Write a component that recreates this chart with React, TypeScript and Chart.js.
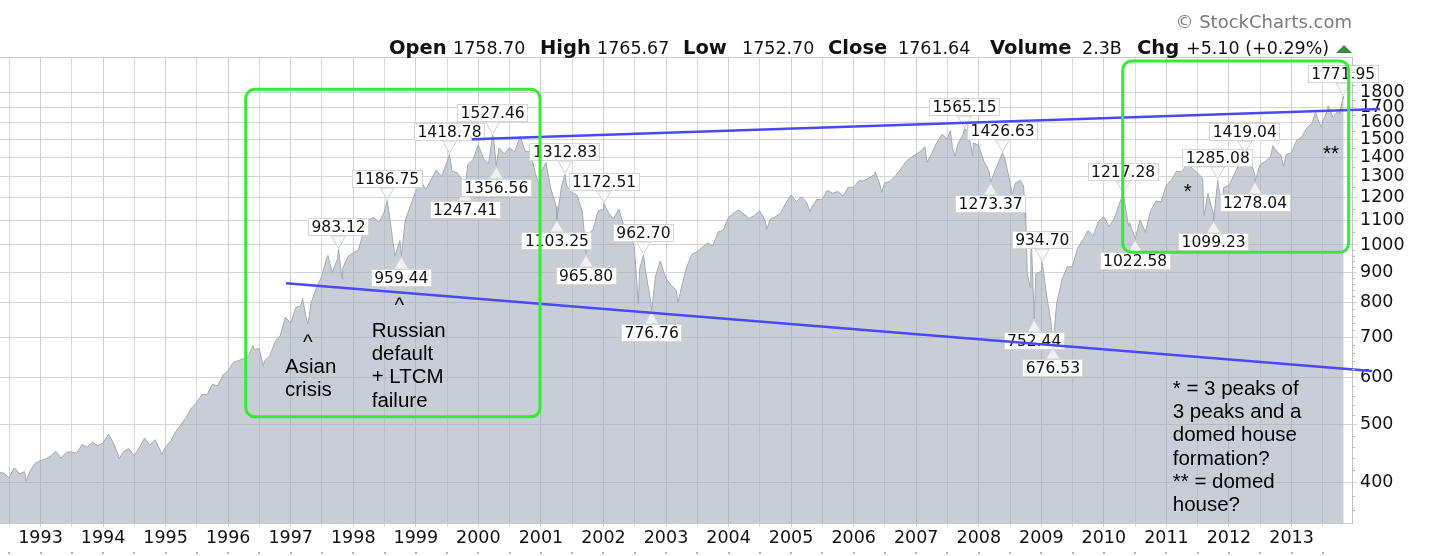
import React, { useEffect, useRef } from "react";
import { Chart, registerables } from "chart.js";

Chart.register(...registerables);

// ---------------- data ----------------
// S&P 500 monthly closes, starting May 1992, ending Oct 2013
const monthlyStart = { year: 1992, month: 5 };
const monthlyCloses: number[] = [
  // 1992 May-Dec
  415.35, 408.14, 424.21, 414.03, 417.8, 418.68, 431.35, 435.71,
  // 1993
  438.78, 443.38, 451.67, 440.19, 450.19, 450.53, 448.13, 463.56, 458.93, 467.83, 461.79, 466.45,
  // 1994
  481.61, 467.14, 445.77, 450.91, 456.5, 444.27, 458.26, 475.49, 462.69, 472.35, 453.69, 459.27,
  // 1995
  470.42, 487.39, 500.71, 514.71, 533.4, 544.75, 562.06, 561.88, 584.41, 581.5, 605.37, 615.93,
  // 1996
  636.02, 640.43, 645.5, 654.17, 669.12, 670.63, 639.95, 651.99, 687.31, 705.27, 757.02, 740.74,
  // 1997
  786.16, 790.82, 757.12, 801.34, 848.28, 885.14, 954.29, 899.47, 947.28, 914.62, 955.4, 970.43,
  // 1998
  980.28, 1049.34, 1101.75, 1111.75, 1090.82, 1133.84, 1120.67, 957.28, 1017.01, 1098.67, 1163.63, 1229.23,
  // 1999
  1279.64, 1238.33, 1286.37, 1335.18, 1301.84, 1372.71, 1328.72, 1320.41, 1282.71, 1362.93, 1388.91, 1469.25,
  // 2000
  1394.46, 1366.42, 1498.58, 1452.43, 1420.6, 1454.6, 1430.83, 1517.68, 1436.51, 1429.4, 1314.95, 1320.28,
  // 2001
  1366.01, 1239.94, 1160.33, 1249.46, 1255.82, 1224.38, 1211.23, 1133.58, 1040.94, 1059.78, 1139.45, 1148.08,
  // 2002
  1130.2, 1106.73, 1147.39, 1076.92, 1067.14, 989.82, 911.62, 916.07, 815.28, 885.76, 936.31, 879.82,
  // 2003
  855.7, 841.15, 848.18, 916.92, 963.59, 974.5, 990.31, 1008.01, 995.97, 1050.71, 1058.2, 1111.92,
  // 2004
  1131.13, 1144.94, 1126.21, 1107.3, 1120.68, 1140.84, 1101.72, 1104.24, 1114.58, 1130.2, 1173.82, 1211.92,
  // 2005
  1181.27, 1203.6, 1180.59, 1156.85, 1191.5, 1191.33, 1234.18, 1220.33, 1228.81, 1207.01, 1249.48, 1248.29,
  // 2006
  1280.08, 1280.66, 1294.83, 1310.61, 1270.09, 1270.2, 1276.66, 1303.82, 1335.85, 1377.94, 1400.63, 1418.3,
  // 2007
  1438.24, 1406.82, 1420.86, 1482.37, 1530.62, 1503.35, 1455.27, 1473.99, 1526.75, 1549.38, 1481.14, 1468.36,
  // 2008
  1378.55, 1330.63, 1322.7, 1385.59, 1400.38, 1280.0, 1267.38, 1282.83, 1166.36, 968.75, 896.24, 903.25,
  // 2009
  825.88, 735.09, 797.87, 872.81, 919.14, 919.32, 987.48, 1020.62, 1057.08, 1036.19, 1095.63, 1115.1,
  // 2010
  1073.87, 1104.49, 1169.43, 1186.69, 1089.41, 1030.71, 1101.6, 1049.33, 1141.2, 1183.26, 1180.55, 1257.64,
  // 2011
  1286.12, 1327.22, 1325.83, 1363.61, 1345.2, 1320.64, 1292.28, 1218.89, 1131.42, 1253.3, 1246.96, 1257.6,
  // 2012
  1312.41, 1365.68, 1408.47, 1397.91, 1310.33, 1362.16, 1379.32, 1406.58, 1440.67, 1412.16, 1416.18, 1426.19,
  // 2013 Jan-Oct
  1498.11, 1514.68, 1569.19, 1597.57, 1630.74, 1606.28, 1685.73, 1632.97, 1681.55, 1756.54,
];

// labelled swing highs / lows
const labeledSwings: [string, number, "peak" | "trough"][] = [
  ["1997-10-07", 983.12, "peak"],
  ["1998-07-17", 1186.75, "peak"],
  ["1998-10-08", 959.44, "trough"],
  ["1999-07-16", 1418.78, "peak"],
  ["1999-10-15", 1247.41, "trough"],
  ["2000-03-24", 1527.46, "peak"],
  ["2000-04-14", 1356.56, "trough"],
  ["2001-04-04", 1103.25, "trough"],
  ["2001-05-21", 1312.83, "peak"],
  ["2001-09-21", 965.8, "trough"],
  ["2002-01-04", 1172.51, "peak"],
  ["2002-08-22", 962.7, "peak"],
  ["2002-10-09", 776.76, "trough"],
  ["2007-10-09", 1565.15, "peak"],
  ["2008-03-10", 1273.37, "trough"],
  ["2008-05-19", 1426.63, "peak"],
  ["2008-11-20", 752.44, "trough"],
  ["2009-01-06", 934.7, "peak"],
  ["2009-03-09", 676.53, "trough"],
  ["2010-04-23", 1217.28, "peak"],
  ["2010-07-02", 1022.58, "trough"],
  ["2011-10-03", 1099.23, "trough"],
  ["2011-10-27", 1285.08, "peak"],
  ["2012-04-02", 1419.04, "peak"],
  ["2012-06-01", 1278.04, "trough"],
  ["2013-10-29", 1771.95, "peak"],
];

// other daily closes at turning points
const otherSwings: [string, number][] = [
  ["1992-05-08", 416.05], ["1992-10-09", 402.66], ["1994-02-02", 482.0], ["1994-04-04", 438.92],
  ["1994-12-08", 445.45], ["1996-05-24", 678.51], ["1996-07-24", 626.65], ["1997-03-11", 813.65],
  ["1997-04-11", 737.65], ["1997-08-06", 960.32], ["1997-10-27", 876.99], ["1998-08-31", 957.28],
  ["2000-09-01", 1520.77], ["2000-12-20", 1264.74], ["2001-01-30", 1373.73], ["2002-07-23", 797.7],
  ["2002-11-27", 938.87], ["2003-03-11", 800.73], ["2004-08-12", 1063.23], ["2005-04-20", 1137.5],
  ["2006-05-05", 1325.76], ["2006-06-13", 1223.69], ["2007-02-20", 1459.68], ["2007-03-05", 1374.12],
  ["2007-07-19", 1553.08], ["2007-08-15", 1406.7], ["2007-11-26", 1407.22], ["2008-07-15", 1214.91],
  ["2008-09-19", 1255.08], ["2008-09-29", 1106.39], ["2008-10-10", 899.22], ["2008-10-27", 848.92],
  ["2008-11-04", 1005.75], ["2010-05-25", 1074.03], ["2011-04-29", 1363.61], ["2011-08-08", 1119.46],
  ["2011-11-25", 1158.67], ["2012-09-14", 1465.77], ["2012-11-15", 1353.33], ["2013-05-21", 1669.16],
  ["2013-06-24", 1573.09], ["2013-08-02", 1709.67], ["2013-10-08", 1655.45], ["2013-11-01", 1761.64],
];

const xTickLabels = [
  "1993", "1994", "1995", "1996", "1997", "1998", "1999", "2000", "2001", "2002", "2003",
  "2004", "2005", "2006", "2007", "2008", "2009", "2010", "2011", "2012", "2013",
];
const yTickValues = [400, 500, 600, 700, 800, 900, 1000, 1100, 1200, 1300, 1400, 1500, 1600, 1700, 1800];

// hand-drawn trend lines: [decimal year, index value]
const upperTrend: [number, number][] = [[1999.894, 1502.6], [2014.415, 1688]];
const lowerTrend: [number, number][] = [[1996.925, 862.9], [2014.287, 615.6]];

// hand-drawn highlight boxes (decimal years / index values)
const highlightBoxes = [
  { from: 1996.281, to: 2000.986, top: 1821, bottom: 516 },
  { from: 2010.301, to: 2013.914, top: 2031, bottom: 972 },
];

// hand-written notes, anchored at (decimal year, index value) of first baseline
const notes: { x: number; y: number; lines: string[]; align: CanvasTextAlign }[] = [
  { x: 1997.272, y: 668.6, lines: ["^"], align: "center" },
  { x: 1996.909, y: 610.8, lines: ["Asian", "crisis"], align: "left" },
  { x: 1998.736, y: 771.3, lines: ["^"], align: "center" },
  { x: 1998.295, y: 702.4, lines: ["Russian", "default", "+ LTCM", "failure"], align: "left" },
  { x: 2011.341, y: 1198, lines: ["*"], align: "center" },
  { x: 2013.631, y: 1389.8, lines: ["**"], align: "center" },
  {
    x: 2011.101, y: 561.3,
    lines: ["* = 3 peaks of", "3 peaks and a", "domed house", "formation?", "** = domed", "house?"],
    align: "left",
  },
];

const headerLabels = ["Open", "High", "Low", "Close", "Volume", "Chg"];
const headerValues = ["1758.70", "1765.67", "1752.70", "1761.64", "2.3B", "+5.10 (+0.29%)"];
const copyrightText = "© StockCharts.com";

// ---------------- layout / style ----------------
const X_MIN = 1992.3525;
const X_MAX = 2013.967;
const Y_MIN = 342.7;
const Y_MAX = 2062.6;
const headerLabelX = [389, 540, 683, 828, 990, 1137];
const headerValueX = [453, 597, 742, 898, 1082, 1186];

function decYear(y: number, m: number, d: number) {
  const s = Date.UTC(y, 0, 1);
  const e = Date.UTC(y + 1, 0, 1);
  return y + (Date.UTC(y, m - 1, d) - s + 43200000) / (e - s);
}
function dateToYear(date: string) {
  const [y, m, d] = date.split("-").map(Number);
  return decYear(y, m, d);
}

const seriesPoints = [
  ...monthlyCloses.map((v, i) => {
    const mi = monthlyStart.month - 1 + i;
    const y = monthlyStart.year + Math.floor(mi / 12);
    const m = mi % 12;
    const lastDay = new Date(Date.UTC(y, m + 1, 0)).getUTCDate();
    return { x: decYear(y, m + 1, lastDay), y: v };
  }),
  ...labeledSwings.map(([d, v]) => ({ x: dateToYear(d), y: v })),
  ...otherSwings.map(([d, v]) => ({ x: dateToYear(d), y: v })),
].sort((a, b) => a.x - b.x);

const halfYearTicks: number[] = [];
for (let i = 0; i <= 42; i++) halfYearTicks.push(1992.5 + i * 0.5);

const overlayPlugin = {
  id: "overlay",
  afterDatasetDraw(chart: any, args: any) {
    if (args.index !== 0) return;
    const ctx: CanvasRenderingContext2D = chart.ctx;
    const xs = chart.scales.x;
    const ys = chart.scales.y;
    ctx.save();
    ctx.font = '15.5px "DejaVu Sans"';
    ctx.textAlign = "center";
    ctx.textBaseline = "middle";
    for (const [d, v, kind] of labeledSwings) {
      const px = xs.getPixelForValue(dateToYear(d));
      const py = ys.getPixelForValue(v);
      const text = v.toFixed(2);
      const w = Math.round(ctx.measureText(text).width + 7);
      const h = 18;
      const gap = 13;
      const bx = Math.round(px - w / 2);
      const by = Math.round(kind === "peak" ? py - gap - h : py + gap);
      const baseY = kind === "peak" ? by + h : by;
      const tipY = kind === "peak" ? py - 1 : py + 1;
      ctx.beginPath();
      ctx.moveTo(px - 7, baseY);
      ctx.lineTo(px, tipY);
      ctx.lineTo(px + 7, baseY);
      ctx.closePath();
      ctx.fillStyle = "rgba(250,250,250,0.8)";
      ctx.fill();
      ctx.strokeStyle = "#d2d2d2";
      ctx.lineWidth = 1;
      ctx.stroke();
      ctx.fillStyle = "#ffffff";
      ctx.fillRect(bx, by, w, h);
      ctx.strokeStyle = "#d6d6d6";
      ctx.strokeRect(bx + 0.5, by + 0.5, w - 1, h - 1);
      ctx.fillStyle = "#111111";
      ctx.fillText(text, px, by + h / 2 + 1);
    }
    ctx.restore();
  },
  afterDraw(chart: any) {
    const ctx: CanvasRenderingContext2D = chart.ctx;
    const xs = chart.scales.x;
    const ys = chart.scales.y;
    const area = chart.chartArea;
    ctx.save();
    // top frame line
    ctx.strokeStyle = "#cccccc";
    ctx.lineWidth = 1;
    ctx.beginPath();
    ctx.moveTo(area.left, area.top + 0.5);
    ctx.lineTo(area.right, area.top + 0.5);
    ctx.stroke();
    // minor ticks on right axis
    ctx.strokeStyle = "#b8b8b8";
    ctx.beginPath();
    for (let v = 360; v <= 2000; v += v < 1000 ? 20 : 50) {
      if (yTickValues.includes(v)) continue;
      const py = Math.round(ys.getPixelForValue(v)) + 0.5;
      if (py < area.top || py > area.bottom) continue;
      ctx.moveTo(area.right, py);
      ctx.lineTo(area.right + 3, py);
    }
    ctx.stroke();
    // small dots below the date labels
    ctx.fillStyle = "#b0b0b0";
    for (const t of halfYearTicks) {
      const px = Math.round(xs.getPixelForValue(t));
      ctx.fillRect(px - 1, 552, 2, 2);
    }
    // highlight boxes
    ctx.strokeStyle = "#2ef02e";
    ctx.lineWidth = 3;
    for (const b of highlightBoxes) {
      const x1 = xs.getPixelForValue(b.from);
      const x2 = xs.getPixelForValue(b.to);
      const y1 = ys.getPixelForValue(b.top);
      const y2 = ys.getPixelForValue(b.bottom);
      ctx.beginPath();
      (ctx as any).roundRect(x1, y1, x2 - x1, y2 - y1, 9);
      ctx.stroke();
    }
    // notes
    ctx.fillStyle = "#000000";
    ctx.font = '20.5px "Liberation Sans", Arial, sans-serif';
    ctx.textBaseline = "alphabetic";
    for (const n of notes) {
      const px = xs.getPixelForValue(n.x);
      const py = ys.getPixelForValue(n.y);
      ctx.textAlign = n.align;
      n.lines.forEach((line, i) => ctx.fillText(line, px, py + i * 23.3));
    }
    // header
    ctx.textAlign = "left";
    ctx.fillStyle = "#111111";
    headerLabels.forEach((t, i) => {
      ctx.font = 'bold 19.5px "DejaVu Sans"';
      ctx.fillText(t, headerLabelX[i], 54);
    });
    headerValues.forEach((t, i) => {
      ctx.font = '17.5px "DejaVu Sans"';
      ctx.fillText(t, headerValueX[i], 54);
    });
    // up triangle
    ctx.fillStyle = "#3d8b40";
    ctx.beginPath();
    ctx.moveTo(1336, 53);
    ctx.lineTo(1352, 53);
    ctx.lineTo(1344, 45);
    ctx.closePath();
    ctx.fill();
    // copyright
    ctx.fillStyle = "#7a7a7a";
    ctx.font = '18px "DejaVu Sans"';
    ctx.textAlign = "right";
    ctx.fillText(copyrightText, 1352, 28);
    ctx.restore();
  },
};

export default function App() {
  const canvasRef = useRef<HTMLCanvasElement | null>(null);

  useEffect(() => {
    document.body.style.margin = "0";
    const canvas = canvasRef.current;
    if (!canvas) return;
    const chart = new Chart(canvas, {
      type: "line",
      data: {
        datasets: [
          {
            label: "S&P 500",
            data: seriesPoints,
            borderColor: "#a2a9b6",
            borderWidth: 1,
            backgroundColor: "rgba(159,168,182,0.56)",
            fill: "start",
            pointRadius: 0,
            tension: 0,
            order: 2,
          },
          {
            label: "upper",
            data: upperTrend.map(([x, y]) => ({ x, y })),
            borderColor: "#4848ff",
            borderWidth: 2.5,
            pointRadius: 0,
            fill: false,
            clip: false as any,
            order: 1,
          },
          {
            label: "lower",
            data: lowerTrend.map(([x, y]) => ({ x, y })),
            borderColor: "#4848ff",
            borderWidth: 2.5,
            pointRadius: 0,
            fill: false,
            clip: false as any,
            order: 1,
          },
        ],
      },
      options: {
        animation: false,
        responsive: true,
        maintainAspectRatio: false,
        events: [],
        layout: { padding: { top: 57, left: 0, right: 0, bottom: 0 } },
        plugins: { legend: { display: false }, tooltip: { enabled: false } },
        scales: {
          x: {
            type: "linear",
            min: X_MIN,
            max: X_MAX,
            bounds: "data",
            afterBuildTicks: (s: any) => {
              s.ticks = halfYearTicks.map((v) => ({ value: v }));
            },
            afterFit: (s: any) => {
              s.height = 33;
            },
            ticks: {
              autoSkip: false,
              maxRotation: 0,
              padding: 1,
              color: "#111111",
              font: { family: "DejaVu Sans", size: 17.5 },
              callback: (v: any) => {
                const n = Number(v);
                if (!Number.isInteger(n)) return "";
                const idx = n - 1993;
                return xTickLabels[idx] ?? "";
              },
            },
            grid: {
              color: (c: any) => (c.tick && Number.isInteger(c.tick.value) ? "#d0d0d0" : "#dcdcdc"),
              tickLength: 4,
            },
            border: { color: "#c8c8c8" },
          },
          y: {
            type: "logarithmic",
            position: "right",
            min: Y_MIN,
            max: Y_MAX,
            bounds: "data",
            afterBuildTicks: (s: any) => {
              s.ticks = yTickValues.map((v) => ({ value: v }));
            },
            afterFit: (s: any) => {
              s.width = 88;
            },
            ticks: {
              autoSkip: false,
              padding: 3,
              color: "#111111",
              font: { family: "DejaVu Sans", size: 17.5 },
              callback: (v: any) => String(v),
            },
            grid: { color: "#d6d6d6", tickLength: 5 },
            border: { color: "#c0c0c0" },
          },
        },
      } as any,
      plugins: [overlayPlugin],
    });
    return () => chart.destroy();
  }, []);

  return (
    <div style={{ position: "relative", width: 1440, height: 556, background: "#ffffff" }}>
      <canvas ref={canvasRef} />
    </div>
  );
}
